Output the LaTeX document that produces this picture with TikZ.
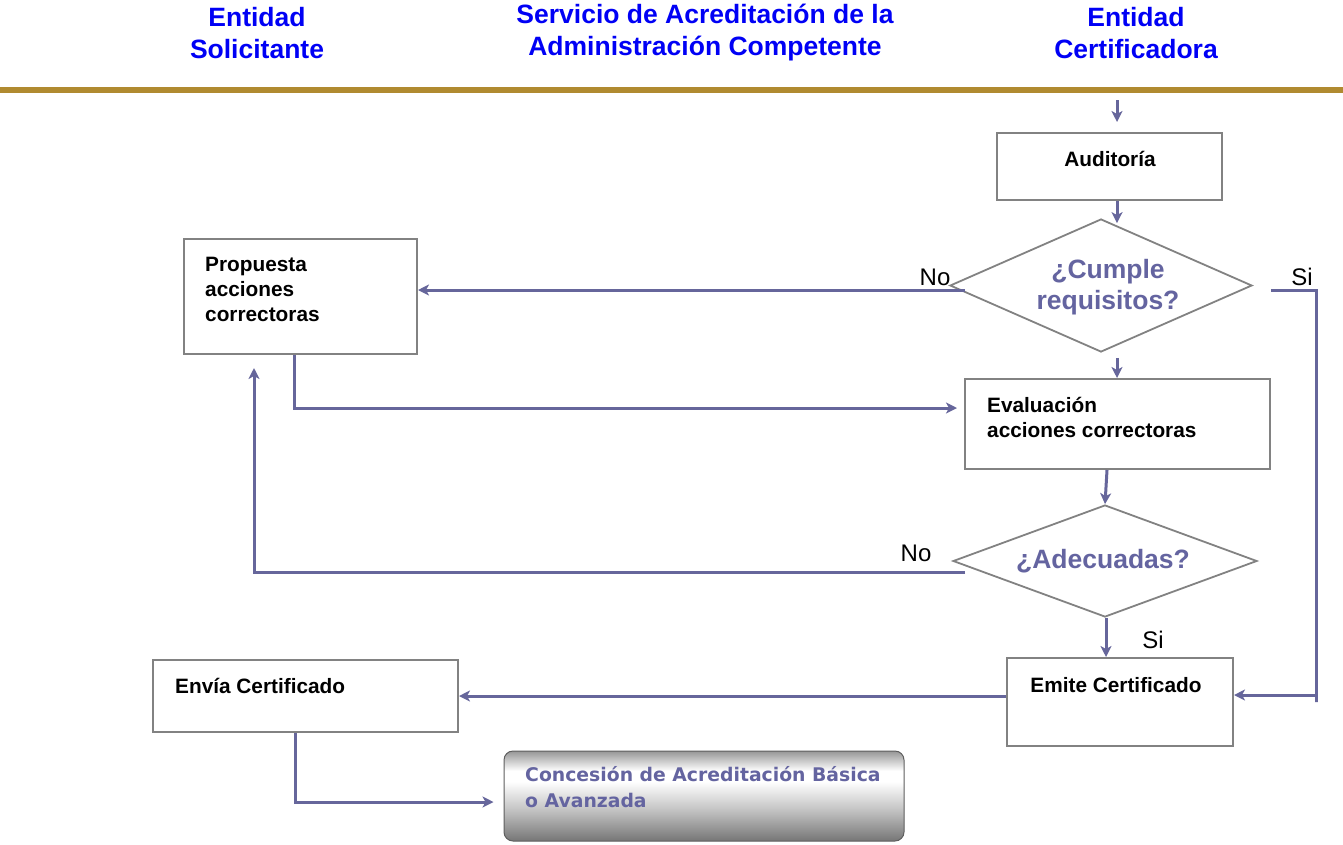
\documentclass[tikz,border=0pt]{standalone}
\usepackage{fontspec}
\setmainfont{Liberation Sans}
\newfontfamily\concfont{DejaVu Sans}
\usetikzlibrary{shapes.geometric,arrows.meta}
\definecolor{headblue}{RGB}{0,0,245}
\definecolor{rulegold}{RGB}{176,138,48}
\definecolor{linec}{RGB}{102,102,155}
\definecolor{boxgray}{RGB}{130,130,130}
\definecolor{qcolor}{RGB}{100,100,160}
\definecolor{shadeA}{RGB}{118,118,118}
\definecolor{shadeB}{RGB}{150,150,150}
\pgfdeclareverticalshading{concshade}{100bp}{color(0bp)=(shadeA); color(25bp)=(shadeA); color(42bp)=(shadeA!45!white); color(58bp)=(white); color(64bp)=(white); color(75bp)=(shadeB); color(100bp)=(shadeB)}
\tikzset{
  box/.style={draw=boxgray, line width=2pt, fill=white, inner sep=0pt},
  decision/.style={diamond, draw=boxgray, line width=1.8pt, fill=white, inner sep=0pt, aspect=2.2},
  conn/.style={draw=linec, line width=3pt, -{Stealth[length=11pt,width=11pt,inset=3pt]}},
  head/.style={text=headblue, font=\fontsize{26.5}{32}\selectfont\bfseries, align=center, inner sep=0pt},
  boxtext/.style={font=\fontsize{20.8}{25}\selectfont\bfseries, align=left, inner sep=0pt},
  qtext/.style={text=qcolor, font=\fontsize{26.5}{31}\selectfont\bfseries, align=center, inner sep=0pt},
  answer/.style={font=\fontsize{24}{24}\selectfont, inner sep=0pt},
}
\begin{document}
\begin{tikzpicture}[x=1pt,y=-1pt]
\useasboundingbox (0,0) rectangle (1343,844);

% column headings
\node[head] (h1) at (257,33) {Entidad\\Solicitante};
\node[head] (h2) at (705,33) {Servicio de Acreditación de la\\Administración Competente};
\node[head] (h3) at (1136,33) {Entidad\\Certificadora};
\draw[rulegold, line width=6pt] (0,89.5) -- (1343,89.5);

% boxes
\node[box, minimum width=225pt, minimum height=67pt] (aud) at (1109.5,166.5) {};
\node[box, minimum width=233pt, minimum height=115pt] (prop) at (300.5,296.5) {};
\node[box, minimum width=305pt, minimum height=90pt] (eval) at (1117.5,424) {};
\node[box, minimum width=226pt, minimum height=88pt] (emite) at (1120,702) {};
\node[box, minimum width=305pt, minimum height=72pt] (envia) at (305.5,696) {};
\node[draw=shadeA!80!black, line width=1pt, rounded corners=9pt, shading=concshade,
      minimum width=400pt, minimum height=90pt, inner sep=0pt] (conc) at (704,796) {};

% decisions
\node[decision, minimum width=302pt, minimum height=133pt] (cumple) at (1101,285.5) {};
\node[decision, minimum width=304pt, minimum height=112pt] (adec) at (1105,561) {};

% texts
\node[boxtext, anchor=center] (tAud) at (1110,159) {Auditoría};
\node[boxtext, anchor=north west] (tProp) at (205,257) {Propuesta\\acciones\\correctoras};
\node[boxtext, anchor=north west] (tEval) at (987,397) {Evaluación\\acciones correctoras};
\node[boxtext, anchor=center] (tEmite) at (1116,685) {Emite Certificado};
\node[boxtext, anchor=west] (tEnvia) at (175,686) {Envía Certificado};
\node[anchor=north west, inner sep=0pt, align=left, text=qcolor,
      font=\concfont\fontsize{18.8}{26}\selectfont\bfseries] (tConc) at (525,766) {Concesión de Acreditación Básica\\o Avanzada};
\node[qtext] (tCumple) at (1108,287) {¿Cumple\\requisitos?};
\node[qtext] (tAdec) at (1103,561) {¿Adecuadas?};
\node[answer] (no1) at (935,277) {No};
\node[answer] (si1) at (1302,277) {Si};
\node[answer] (no2) at (916,553) {No};
\node[answer] (si2) at (1153,640) {Si};

% connectors
\coordinate (entry) at (1117,100);
\draw[conn, shorten >=10pt] (entry) -- (entry |- aud.north);
\draw[conn, shorten >=-5pt] (entry |- aud.south) -- (entry |- cumple.north);
\draw[conn, shorten <=5pt] (entry |- cumple.south) -- (entry |- eval.north);

\coordinate (noA) at ([shift={(16,4.5)}]cumple.west);
\draw[conn] (noA) -- (noA -| prop.east);

\coordinate (siA) at ([shift={(18,4.5)}]cumple.east);
\coordinate (siB) at (1316,0);
\draw[conn] (siA) -| (siB |- emite.center) |- ([yshift=7pt]emite.east);

\draw[conn, shorten >=7pt] ([xshift=-6.5pt]prop.south) |- ([yshift=16pt]eval.west);

\draw[conn] ([xshift=-10.5pt]eval.south) -- (adec.north);

\coordinate (noB) at ([shift={(13,11)}]adec.west);
\draw[conn, shorten >=13pt] (noB) -| ([xshift=-46.5pt]prop.south);

\draw[conn] ([xshift=1pt]adec.south) -- ([xshift=1pt]adec.south |- emite.north);

\draw[conn] (envia.east -| emite.west) -- (envia.east);

\draw[conn, shorten >=10pt] ([xshift=-10.5pt]envia.south) |- ([yshift=-6pt]conc.west);
\end{tikzpicture}
\end{document}
